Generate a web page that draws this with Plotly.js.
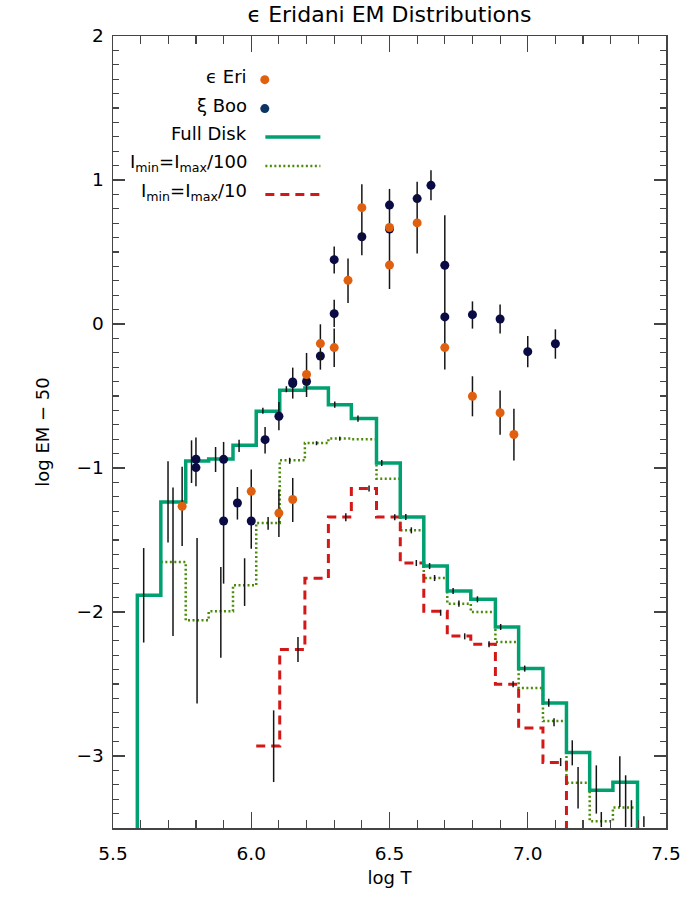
<!DOCTYPE html>
<html>
<head>
<meta charset="utf-8">
<script src="https://cdn.plot.ly/plotly-3.0.1.min.js"></script>
<style>html,body{margin:0;padding:0;background:#fff;}#chart{width:700px;height:900px;}</style>
</head>
<body>
<div id="chart"></div>
<script>
// ---- histogram bin edges (log T) ----
const binEdges = [5.588, 5.673, 5.763, 5.846, 5.934, 6.018, 6.103, 6.194, 6.279, 6.362, 6.453,
                  6.539, 6.624, 6.709, 6.794, 6.883, 6.967, 7.055, 7.140, 7.224, 7.308, 7.397];
// Full Disk levels, one per bin (bins 0..20)
const fullDisk = [-1.884, -1.236, -0.951, -0.938, -0.842, -0.606, -0.460, -0.444, -0.560, -0.657, -0.965,
                  -1.340, -1.681, -1.854, -1.912, -2.104, -2.393, -2.632, -2.976, -3.238, -3.182];
// Imin=Imax/100 levels (bins 1..20)
const imax100 = [-1.653, -2.058, -1.995, -1.815, -1.382, -0.947, -0.826, -0.796, -0.800, -1.074,
                 -1.433, -1.764, -1.942, -2.000, -2.208, -2.528, -2.757, -3.185, -3.453, -3.358];
// Imin=Imax/10 levels (bins 5..17)
const imax10 = [-2.930, -2.261, -1.766, -1.340, -1.143, -1.340, -1.660, -1.995, -2.167, -2.224,
                -2.502, -2.806, -3.046];

// ---- eps Eri points ----
const eriT    = [5.75, 6.00, 6.10, 6.15, 6.20, 6.25, 6.30, 6.35, 6.40, 6.50, 6.50, 6.60, 6.70, 6.80, 6.90, 6.95];
const eriEM   = [-1.266, -1.162, -1.313, -1.219, -0.351, -0.136, -0.164, 0.303, 0.808, 0.670, 0.409, 0.702, -0.164, -0.502, -0.616, -0.767];
const eriErrP = [0.274, 0, 0.163, 0.150, 0.150, 0.134, 0.132, 0.151, 0.162, 0, 0, 0.285, 0, 0.139, 0.155, 0.178];
const eriErrM = [0.275, 0, 0.166, 0.156, 0.156, 0.181, 0.135, 0.157, 0.331, 0, 0, 0.213, 0, 0.139, 0.153, 0.181];

// ---- xi Boo points ----
const booT    = [5.80, 5.80, 5.90, 5.90, 5.95, 6.00, 6.05, 6.10, 6.15, 6.15, 6.20, 6.25, 6.30, 6.30, 6.40, 6.50, 6.50, 6.60, 6.65, 6.70, 6.70, 6.80, 6.90, 7.00, 7.10];
const booEM   = [-0.939, -0.997, -0.940, -1.368, -1.243, -1.368, -0.803, -0.641, -0.403, -0.414, -0.399, -0.222, 0.447, 0.072, 0.606, 0.826, 0.660, 0.871, 0.963, 0.408, 0.049, 0.065, 0.035, -0.192, -0.137];
const booErrP = [0.151, 0, 0, 0.549, 0.111, 0.357, 0.088, 0.099, 0.100, 0, 0, 0, 0.092, 0.097, 0, 0, 0.278, 0, 0.104, 0, 0.706, 0.092, 0.100, 0.108, 0.100];
const booErrM = [0.188, 0, 0, 0.435, 0.115, 0.192, 0.097, 0.097, 0.115, 0, 0, 0, 0.097, 0.093, 0, 0, 0.417, 0, 0.104, 0, 0.365, 0.097, 0.101, 0.109, 0.104];

// ---- error bars without plotted points (log T, low, high) ----
const loneT  = [5.611, 5.699, 5.717, 5.784, 5.804, 5.890, 5.976, 6.081, 6.169, 5.871, 5.956, 6.061,
                7.161, 7.182, 7.248, 7.266, 7.333, 7.354, 7.375, 7.420];
const loneLo = [-2.212, -1.518, -2.167, -1.104, -2.636, -2.317, -1.958, -3.181, -2.347, -1.028, -0.889, -1.428,
                -3.065, -3.365, -3.400, -3.493, -3.354, -3.493, -3.493, -3.493];
const loneHi = [-1.556, -0.953, -1.136, -0.808, -1.486, -1.688, -1.627, -2.683, -2.174, -0.854, -0.803, -1.340,
                -2.891, -3.076, -3.065, -3.389, -3.002, -3.134, -3.307, -3.419];

// ---- small DEM error ticks on the histograms (log T, centre, half length) ----
const tickT = [6.042, 6.127, 6.302, 6.386, 6.472, 6.559, 6.645, 6.730, 6.818, 6.902, 6.989, 7.076,
               6.139, 6.236, 6.320, 6.579, 6.663, 6.751, 7.095,
               6.342, 6.426, 6.519, 6.597, 6.685, 6.772, 6.860, 6.947, 7.119];
const tickC = [-0.603, -0.453, -0.560, -0.657, -0.965, -1.340, -1.681, -1.854, -1.912, -2.104, -2.393, -2.630,
               -0.950, -0.828, -0.796, -1.433, -1.764, -1.942, -2.766,
               -1.342, -1.143, -1.342, -1.660, -2.005, -2.169, -2.224, -2.502, -3.042];
const tickH = [0.021, 0.021, 0.021, 0.021, 0.021, 0.021, 0.021, 0.021, 0.021, 0.021, 0.021, 0.028,
               0.021, 0.014, 0.014, 0.021, 0.021, 0.021, 0.028,
               0.028, 0.021, 0.021, 0.021, 0.021, 0.021, 0.021, 0.021, 0.028];

const FLOOR = -3.7;
const FONT = 'DejaVu Sans, Liberation Sans, sans-serif';
const C_GREEN = '#00a070', C_OLIVE = '#4a8c08', C_RED = '#d41818', C_ORANGE = '#e0600f', C_NAVY = '#0a0a45';

function stepTrace(startBin, levels, startFromFloor) {
  const xs = [], ys = [];
  if (startFromFloor) { xs.push(binEdges[startBin]); ys.push(FLOOR); }
  for (let i = 0; i < levels.length; i++) { xs.push(binEdges[startBin + i]); ys.push(levels[i]); }
  xs.push(binEdges[startBin + levels.length]); ys.push(FLOOR);
  return {x: xs, y: ys};
}

const g = stepTrace(0, fullDisk, true);
const d = stepTrace(1, imax100, false);
const r = stepTrace(5, imax10, false);

const errStyle = {type: 'data', symmetric: false, color: '#151515', thickness: 1.5, width: 0};

const traces = [
  {x: d.x, y: d.y, mode: 'lines', line: {shape: 'hv', color: C_OLIVE, width: 2.5, dash: '2px,2.5px'}, hoverinfo: 'skip'},
  {x: r.x, y: r.y, mode: 'lines', line: {shape: 'hv', color: C_RED, width: 3, dash: '9px,6px'}, hoverinfo: 'skip'},
  {x: g.x, y: g.y, mode: 'lines', line: {shape: 'hv', color: C_GREEN, width: 3.5}, hoverinfo: 'skip'},
  {x: tickT, y: tickC, mode: 'markers', marker: {size: 0.1, color: 'rgba(0,0,0,0)'},
   error_y: {type: 'data', array: tickH, color: '#151515', thickness: 1.5, width: 0}},
  {x: loneT, y: loneLo, mode: 'markers', marker: {size: 0.1, color: 'rgba(0,0,0,0)'},
   error_y: Object.assign({}, errStyle, {array: loneHi.map((h, i) => h - loneLo[i]), arrayminus: loneLo.map(() => 0)})},
  {x: booT, y: booEM, mode: 'markers', marker: {size: 9, color: C_NAVY},
   error_y: Object.assign({}, errStyle, {array: booErrP, arrayminus: booErrM})},
  {x: eriT, y: eriEM, mode: 'markers', marker: {size: 9, color: C_ORANGE},
   error_y: Object.assign({}, errStyle, {array: eriErrP, arrayminus: eriErrM})}
];

// legend (drawn inside plot, text right-aligned, sample on the right)
const legText = ['ϵ Eri', 'ξ Boo', 'Full Disk', 'I<sub>min</sub>=I<sub>max</sub>/100', 'I<sub>min</sub>=I<sub>max</sub>/10'];
const legTextY = [1.72, 1.52, 1.32, 1.12, 0.92];
const legSampleY = [1.697, 1.496, 1.299, 1.097, 0.899];
const annotations = legText.map((t, i) => ({
  text: t, x: 5.992, y: legTextY[i], xref: 'x', yref: 'y', xanchor: 'right', yanchor: 'middle',
  showarrow: false, font: {family: FONT, size: 18, color: '#000'}
}));
const shapes = [
  {type: 'circle', xref: 'x', yref: 'y', xsizemode: 'pixel', ysizemode: 'pixel', xanchor: 6.049, yanchor: legSampleY[0],
   x0: -4.5, x1: 4.5, y0: -4.5, y1: 4.5, fillcolor: C_ORANGE, line: {width: 0}},
  {type: 'circle', xref: 'x', yref: 'y', xsizemode: 'pixel', ysizemode: 'pixel', xanchor: 6.049, yanchor: legSampleY[1],
   x0: -4.5, x1: 4.5, y0: -4.5, y1: 4.5, fillcolor: '#0d3563', line: {width: 0}},
  {type: 'line', xref: 'x', yref: 'y', x0: 6.051, x1: 6.250, y0: legSampleY[2], y1: legSampleY[2], line: {color: C_GREEN, width: 3.5}},
  {type: 'line', xref: 'x', yref: 'y', x0: 6.051, x1: 6.250, y0: legSampleY[3], y1: legSampleY[3], line: {color: C_OLIVE, width: 2.5, dash: '2px,2.5px'}},
  {type: 'line', xref: 'x', yref: 'y', x0: 6.051, x1: 6.250, y0: legSampleY[4], y1: legSampleY[4], line: {color: C_RED, width: 3, dash: '9px,6px'}}
];

const axisCommon = {
  showgrid: false, zeroline: false, showline: true, linecolor: '#444', linewidth: 1.5,
  mirror: 'allticks', ticks: 'inside', tickcolor: '#444', tickwidth: 1.2,
  tickfont: {family: FONT, size: 18.5, color: '#000'}
};

const layout = {
  width: 700, height: 900,
  margin: {l: 113, r: 34, t: 36, b: 72, pad: 0},
  paper_bgcolor: '#fff', plot_bgcolor: '#fff',
  showlegend: false,
  font: {family: FONT, color: '#000'},
  title: {text: 'ϵ Eridani EM Distributions', x: 0.5, xref: 'paper', xanchor: 'center',
          y: 0.984, yref: 'container', yanchor: 'middle', font: {family: FONT, size: 22, color: '#000'}},
  xaxis: Object.assign({}, axisCommon, {
    range: [5.5, 7.5], tickmode: 'array', tickvals: [5.5, 6.0, 6.5, 7.0, 7.5],
    ticktext: ['5.5', '6.0', '6.5', '7.0', '7.5'], ticklen: 16, ticklabelstandoff: 8,
    minor: {dtick: 0.1, ticklen: 8, tickcolor: '#444', tickwidth: 1.2, ticks: 'inside'},
    title: {text: 'log T', font: {family: FONT, size: 18, color: '#000'}, standoff: 8}
  }),
  yaxis: Object.assign({}, axisCommon, {
    range: [-3.5, 2], tickmode: 'array', tickvals: [-3, -2, -1, 0, 1, 2],
    ticktext: ['−3', '−2', '−1', '0', '1', '2'], ticklen: 12, ticklabelstandoff: 4,
    minor: {dtick: 0.1, ticklen: 6, tickcolor: '#444', tickwidth: 1.2, ticks: 'inside'},
    title: {text: 'log EM − 50', font: {family: FONT, size: 18, color: '#000'}, standoff: 22}
  }),
  annotations: annotations,
  shapes: shapes
};

Plotly.newPlot('chart', traces, layout, {staticPlot: true, displayModeBar: false});
</script>
</body>
</html>
